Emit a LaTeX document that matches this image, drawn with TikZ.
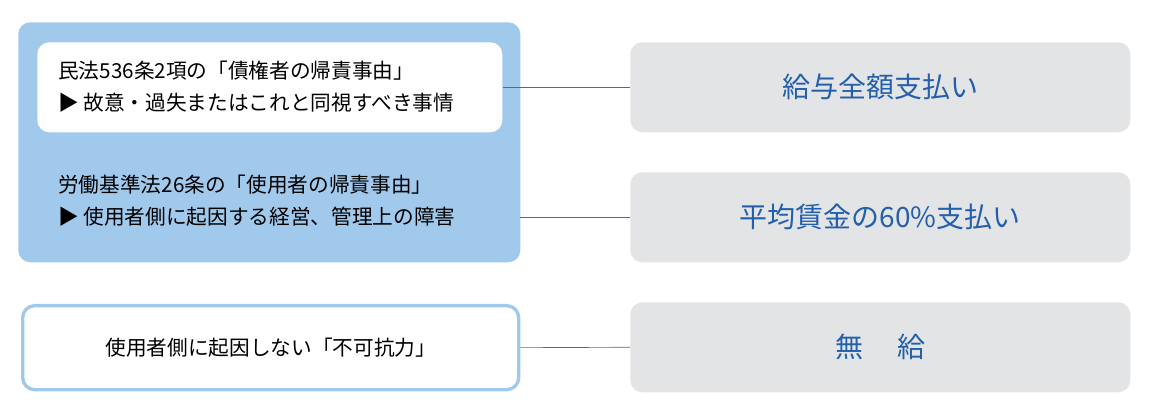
\documentclass[tikz,border=0pt]{standalone}
\usepackage{fontspec}
\setmainfont{Noto Sans CJK JP}
\usetikzlibrary{positioning}
\definecolor{lightblue}{RGB}{160,201,236}
\definecolor{paygray}{RGB}{227,228,230}
\definecolor{textblue}{RGB}{35,95,170}
\begin{document}
\begin{tikzpicture}[x=0.75pt,y=-0.75pt]
   \tikzstyle{every node}=[inner sep=0pt]
   \tikzstyle{reason}=[align=left,font=\fontsize{15.5}{24}\selectfont,anchor=west]
   \tikzstyle{paybox}=[fill=paygray,rounded corners=9pt,minimum width=375pt,minimum height=67.5pt,
        text=textblue,font=\fontsize{21}{24}\selectfont,anchor=north west]
   \tikzstyle{link}=[draw=black!60,line width=0.5pt]

   \useasboundingbox (0,0) rectangle (1152,409);
   % left side
   \node[fill=lightblue,rounded corners=9pt,minimum width=376.5pt,minimum height=180pt,anchor=north west] (civil) at (18,22) {};
   \node[fill=white,rounded corners=9pt,minimum width=348.75pt,minimum height=67.5pt,anchor=north west] (civilin) at (37,42) {};
   \node[reason] (civiltxt) at (58,87) {民法536条2項の「債権者の帰責事由」\\▶ 故意・過失またはこれと同視すべき事情};
   \node[reason] (labortxt) at (58,201) {労働基準法26条の「使用者の帰責事由」\\▶ 使用者側に起因する経営、管理上の障害};
   \coordinate (laborend) at (520,217);
   \node[draw=lightblue,line width=2.5pt,fill=white,rounded corners=9pt,minimum width=372pt,minimum height=63pt,
        anchor=north west,font=\fontsize{15.5}{24}\selectfont] (force) at (21,304) {使用者側に起因しない「不可抗力」};

   % right side
   \node[paybox] (full) at (630,42) {給与全額支払い};
   \node[paybox] (sixty) at (630,172) {平均賃金の60\%支払い};
   \node[paybox] (none) at (630,302) {無\hspace{1.2em}給};

   \path[link] (civilin.east) -- (full.west);
   \path[link] (laborend) -- (laborend -| sixty.west);
   \path[link] (force.east) -- (none.west);
\end{tikzpicture}
\end{document}
